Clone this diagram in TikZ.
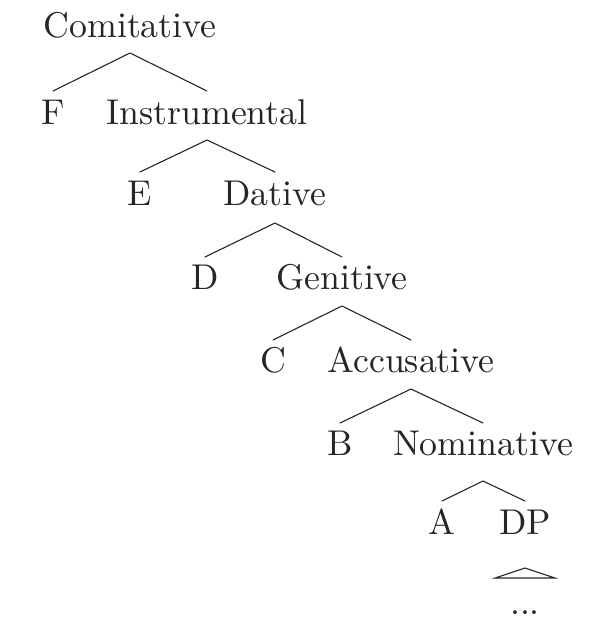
\documentclass[tikz,border=0pt]{standalone}
\newcommand{\bigtxt}[1]{\scalebox{3.58}{#1}}
\begin{document}
\begin{tikzpicture}[x=1pt,y=-1pt,
  lbl/.style={anchor=base,inner sep=0pt,text=black!85,font=\fontsize{10pt}{12pt}\selectfont},
  edge/.style={line width=1.1pt,line cap=round,color=black!85}]
\useasboundingbox (0,0) rectangle (601,641);
\node[lbl] (com) at (130,37) {\bigtxt{Comitative}};
\node[lbl] (F) at (53,124.5) {\bigtxt{F}};
\node[lbl] (ins) at (207,124.5) {\bigtxt{Instrumental}};
\node[lbl] (E) at (140,205.5) {\bigtxt{E}};
\node[lbl] (dat) at (275,205.5) {\bigtxt{Dative}};
\node[lbl] (D) at (205,289.5) {\bigtxt{D}};
\node[lbl] (gen) at (342,289.5) {\bigtxt{Genitive}};
\node[lbl] (C) at (273,372) {\bigtxt{C}};
\node[lbl] (acc) at (411,372) {\bigtxt{Accusative}};
\node[lbl] (B) at (340,455.5) {\bigtxt{B}};
\node[lbl] (nom) at (483,455.5) {\bigtxt{Nominative}};
\node[lbl] (A) at (442,534.5) {\bigtxt{A}};
\node[lbl] (DP) at (525,534.5) {\bigtxt{DP}};
\node[lbl] (dots) at (525,614) {\bigtxt{...}};
\draw[edge] ([yshift=33.5pt]F.base) -- ([yshift=-16pt]com.base) -- ([yshift=33.5pt]ins.base);
\draw[edge] ([yshift=33.5pt]E.base) -- ([yshift=-15.5pt]ins.base) -- ([yshift=33.5pt]dat.base);
\draw[edge] ([yshift=32.5pt]D.base) -- ([yshift=-17.5pt]dat.base) -- ([yshift=32.5pt]gen.base);
\draw[edge] ([yshift=32pt]C.base) -- ([yshift=-16.5pt]gen.base) -- ([yshift=32pt]acc.base);
\draw[edge] ([yshift=32.5pt]B.base) -- ([yshift=-17pt]acc.base) -- ([yshift=32.5pt]nom.base);
\draw[edge] ([yshift=33.5pt]A.base) -- ([yshift=-25.5pt]nom.base) -- ([yshift=33.5pt]DP.base);
\draw[edge,line join=miter] ([yshift=-33.5pt]DP.base) -- ([xshift=-30pt,yshift=36pt]dots.base) -- ([xshift=30pt,yshift=36pt]dots.base) -- cycle;
\end{tikzpicture}
\end{document}
